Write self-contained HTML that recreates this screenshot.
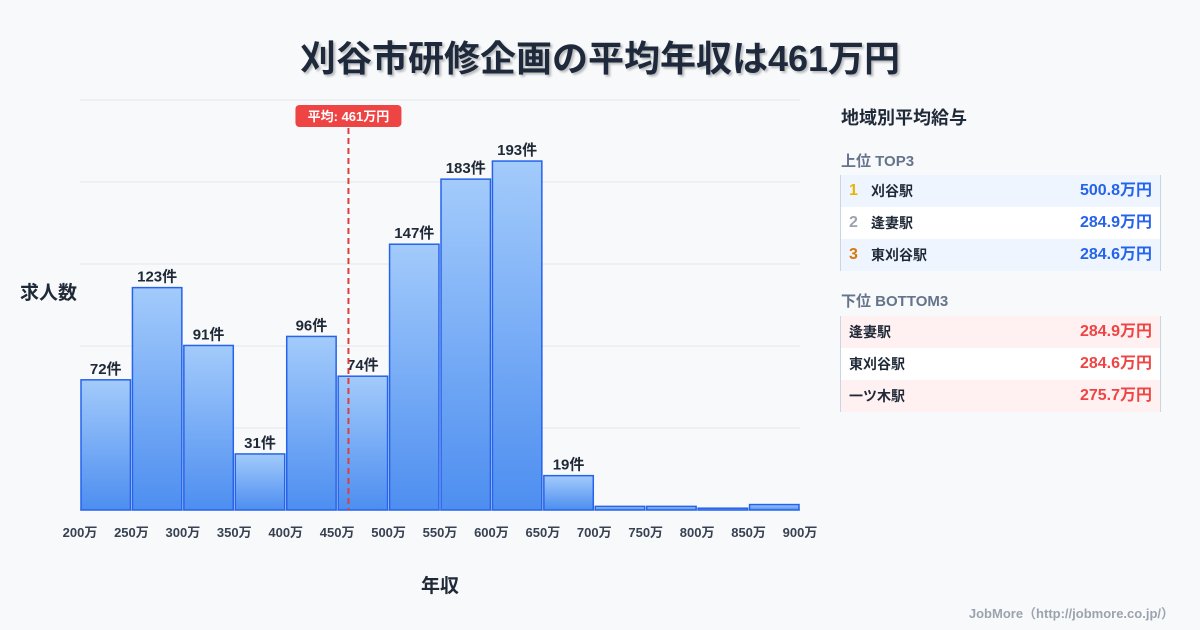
<!DOCTYPE html>
<html><head><meta charset="utf-8"><style>
body{margin:0;width:1200px;height:630px;background:#f8f9fb;font-family:"Liberation Sans","Noto Sans CJK JP",sans-serif;position:relative;overflow:hidden;color:#1f2937}
.abs{position:absolute}
.title{left:0;width:1200px;top:30px;text-align:center;font-size:36px;font-weight:bold;color:#1e293b;text-shadow:2px 2px 2px rgba(0,0,0,.25)}
.row{position:absolute;left:840px;width:321px;height:32px;border-left:1px solid #cbd5e1;border-right:1px solid #cbd5e1;font-size:14px;font-weight:bold;box-sizing:border-box}
.row span{position:absolute;top:0;line-height:32px;height:32px}
.row span.n{font-size:16px}
.row span.v{font-size:16px}
</style></head><body>
<div class="abs title">刈谷市研修企画の平均年収は461万円</div>
<svg class="abs" style="left:0;top:0" width="830" height="630">
<defs><linearGradient id="g" x1="0" y1="0" x2="0" y2="1"><stop offset="0" stop-color="#a3cbfb"/><stop offset="1" stop-color="#4d8ef0"/></linearGradient></defs>
<g id="grid"></g><g id="bars"></g><g id="xt"></g>
<text x="20" y="299" font-size="19" font-weight="bold" fill="#1f2937">求人数</text>
<text x="440" y="592" font-size="19" font-weight="bold" fill="#1f2937" text-anchor="middle">年収</text>
<g id="avg"></g>
</svg>
<div class="abs" style="left:841px;top:104px;font-size:18px;font-weight:bold">地域別平均給与</div>
<div class="abs" style="left:841px;top:150px;font-size:15px;font-weight:bold;color:#64748b">上位 TOP3</div>
<div class="row" style="top:175px;background:#eef5ff"><span class="n" style="left:8px;color:#eab308">1</span><span style="left:30px">刈谷駅</span><span class="v" style="right:8px;color:#2563eb">500.8万円</span></div>
<div class="row" style="top:207px;background:#fff"><span class="n" style="left:8px;color:#9ca3af">2</span><span style="left:30px">逢妻駅</span><span class="v" style="right:8px;color:#2563eb">284.9万円</span></div>
<div class="row" style="top:239px;background:#eef5ff"><span class="n" style="left:8px;color:#d97706">3</span><span style="left:30px">東刈谷駅</span><span class="v" style="right:8px;color:#2563eb">284.6万円</span></div>
<div class="abs" style="left:841px;top:290px;font-size:15px;font-weight:bold;color:#64748b">下位 BOTTOM3</div>
<div class="row" style="top:316px;background:#fff1f1"><span style="left:8px">逢妻駅</span><span class="v" style="right:8px;color:#ef4444">284.9万円</span></div>
<div class="row" style="top:348px;background:#fff"><span style="left:8px">東刈谷駅</span><span class="v" style="right:8px;color:#ef4444">284.6万円</span></div>
<div class="row" style="top:380px;background:#fff1f1"><span style="left:8px">一ツ木駅</span><span class="v" style="right:8px;color:#ef4444">275.7万円</span></div>
<div class="abs" style="right:26px;top:603px;font-size:13px;font-weight:bold;color:#9ca3af">JobMore（http://jobmore.co.jp/）</div>
<script>
const binStarts=[200,250,300,350,400,450,500,550,600,650,700,750,800,850];
const counts=[72,123,91,31,96,74,147,183,193,19,2,2,1,3];
const labels=["72件","123件","91件","31件","96件","74件","147件","183件","193件","19件","","","",""];
const xTicks=[200,250,300,350,400,450,500,550,600,650,700,750,800,850,900];
const avgValue=461;
const NS="http://www.w3.org/2000/svg";
const x=v=>80+(v-200)/700*720;
const y=v=>510-v*1.808;
function mk(t,a,p,txt){const e=document.createElementNS(NS,t);for(const k in a)e.setAttribute(k,a[k]);if(txt!==undefined)e.textContent=txt;document.getElementById(p).appendChild(e);return e;}
for(let i=0;i<=5;i++){const gl=mk('line',{x1:80,x2:800,y1:510-i*82,y2:510-i*82,stroke:i==0?'#9ca3af':'#e5e7eb','stroke-width':1},'grid');

}
binStarts.forEach((b,i)=>{const x0=x(b)+1,x1=x(b+50)-1,top=y(counts[i]);
const r=mk('rect',{x:x0,y:top,width:x1-x0,height:510-top,fill:'url(#g)',stroke:'#2563eb','stroke-width':1.5},'bars');


if(labels[i]){const t=mk('text',{x:(x0+x1)/2,y:top-6,'text-anchor':'middle','font-size':15,'font-weight':'bold',fill:'#1f2937'},'bars',labels[i]);

}});
xTicks.forEach(v=>{const t=mk('text',{x:x(v),y:537,'text-anchor':'middle','font-size':13,'font-weight':'bold',fill:'#374151'},'xt',v+'万');

});
const ax=x(avgValue);
const al=mk('line',{x1:ax,x2:ax,y1:128,y2:510,stroke:'#dc3f3f','stroke-width':2,'stroke-dasharray':'6,4'},'avg');


const ab=mk('rect',{x:ax-53,y:105,width:106,height:22,rx:4,fill:'#ef4444'},'avg');


const at=mk('text',{x:ax,y:121,'text-anchor':'middle','font-size':13,'font-weight':'bold',fill:'#fff'},'avg','平均: '+avgValue+'万円');


</script>
</body></html>
